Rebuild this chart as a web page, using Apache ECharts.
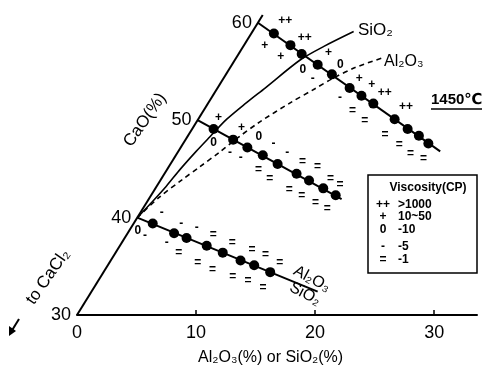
<!DOCTYPE html>
<html><head><meta charset="utf-8">
<script src="https://cdn.jsdelivr.net/npm/echarts@6/dist/echarts.min.js"></script>
<style>html,body{margin:0;padding:0;background:#fff}#c{width:489px;height:376px}</style>
</head><body><div id="c"></div>
<script>
// ---------- data (X = Al2O3 or SiO2 %, CaO %) ----------
const xTicks = [0, 10, 20, 30];
const caoTicks = [30, 40, 50, 60];
const caoAxisEnds = [[0, 30], [0, 60.8]];

const line60Ends = [[0, 60], [22, 46.8]];
const line50Ends = [[0, 50], [16.2, 41.9]];
const line40Ends = [[0, 40], [19, 32.4]];

const dots60 = [[1.9,58.9],[3.9,57.7],[5.3,56.8],[7.2,55.7],[8.9,54.7],[11.1,53.3],[12.5,52.5],[13.9,51.7],[16.5,50.1],[18.1,49.1],[19.4,48.4],[20.6,47.6]];
const dots50 = [[1.8,49.1],[4.0,48.0],[5.6,47.2],[7.3,46.4],[9.0,45.5],[11.1,44.5],[12.5,43.8],[14.1,43.0],[15.5,42.3]];
const dots40 = [[1.6,39.4],[3.9,38.4],[5.2,37.9],[7.3,37.1],[9.0,36.4],[10.9,35.6],[12.3,35.1],[14.0,34.4]];

const sio2Curve = [[0,40],[0.4,41.5],[0.8,43.2],[1.1,45.0],[1.5,46.8],[1.9,48.3],[2.4,50.1],[3.2,51.8],[4.0,53.3],[5.5,56.2],[6.8,57.6],[8.5,59.1]];
const al2o3Curve = [[0,40],[0.8,42.1],[1.8,43.9],[2.6,45.2],[3.5,46.7],[4.3,48.2],[5.3,49.8],[6.9,51.8],[8.2,53.2],[9.2,54.3],[10.5,55.4],[12.3,56.4]];

const visc60 = [
 [2.2,60.2,'++'],[4.7,58.5,'++'],[7.5,56.9,'+'],[9.1,55.7,'0'],[11.4,54.3,'+'],[12.8,53.6,'+'],[14.3,52.8,'++'],[16.8,51.4,'++'],
 [1.8,57.6,'+'],[3.7,56.5,'+'],[6.2,55.2,'0'],[7.5,54.3,'-'],[10.8,52.3,'-'],[12.5,51.0,'='],[14.1,49.9,'='],[16.5,48.5,'='],[18.2,47.5,'='],[19.6,46.6,'='],[21.0,46.0,'=']
];
const visc50 = [
 [1.6,50.3,'+'],[4.1,49.2,'+'],[6.0,48.3,'0'],[7.6,47.6,'-'],[9.2,46.7,'-'],[11.0,45.7,'='],[12.5,45.2,'='],[14.2,44.0,'='],[15.3,43.4,'='],
 [2.5,47.7,'0'],[4.4,46.7,'-'],[5.6,46.1,'-'],[7.7,44.9,'='],[9.1,44.0,'='],[11.3,42.9,'='],[12.7,42.2,'='],[14.2,41.5,'='],[15.5,40.9,'=']
];
const visc40 = [
 [0.7,38.7,'0'],[1.6,38.1,'-'],
 [1.8,40.5,'-'],[4.0,39.4,'-'],[5.5,39.0,'-'],[7.3,38.2,'='],[9.3,37.4,'='],[11.3,36.7,'='],[12.7,36.2,'='],[14.3,35.4,'='],
 [3.8,37.4,'-'],[5.3,36.4,'='],[7.4,35.4,'='],[9.0,34.7,'='],[11.1,33.9,'='],[12.6,33.5,'='],[14.2,32.8,'=']
];

const legendTitle = 'Viscosity(CP)';
const legendSyms = ['++', '+', '0', '-', '='];
const legendVals = ['>1000', '10~50', '-10', '-5', '-1'];

// ---------- ternary-to-cartesian (slant of the CaO axis) ----------
const K = 0.5065;
const P = (x, c) => [x + (c - 30) * K, c];
const PP = arr => arr.map(d => P(d[0], d[1]));

const FONT = '"Liberation Sans","DejaVu Sans",Arial,sans-serif';
const chart = echarts.init(document.getElementById('c'), null, {renderer: 'canvas'});

const lineS = (data, extra) => Object.assign({
  type: 'line', data: PP(data), symbol: 'none', silent: true,
  lineStyle: {color: '#000', width: 2}, z: 3
}, extra || {});
const dotS = data => ({
  type: 'scatter', data: PP(data), symbol: 'circle', symbolSize: 10,
  itemStyle: {color: '#000', opacity: 1}, silent: true, z: 5
});
const symS = data => ({
  type: 'scatter', symbolSize: 0, silent: true, z: 6,
  itemStyle: {opacity: 1},
  data: data.map(d => P(d[0], d[1]).concat([d[2]])),
  label: {show: true, position: 'inside', formatter: p => p.value[2],
    color: '#000', fontFamily: FONT, fontWeight: 'bold', fontSize: 12}
});

const legendRows = [205, 217, 230, 247, 260];
const graphics = [
  {type: 'text', x: 358, y: 30, style: {text: 'SiO₂', font: '17px ' + FONT, fill: '#000', verticalAlign: 'middle'}},
  {type: 'text', x: 384, y: 62, style: {text: 'Al₂O₃', font: '16px ' + FONT, fill: '#000', verticalAlign: 'middle'}},
  {type: 'text', x: 431, y: 100, style: {text: '1450℃', font: 'bold 15px ' + FONT, fill: '#000', verticalAlign: 'middle'}},
  {type: 'line', shape: {x1: 431, y1: 109, x2: 482, y2: 109}, style: {stroke: '#000', lineWidth: 1.5}},
  {type: 'text', x: 145, y: 120, rotation: 55 * Math.PI / 180, style: {text: 'CaO(%)', font: '17px ' + FONT, fill: '#000', align: 'center', verticalAlign: 'middle'}},
  {type: 'text', x: 48, y: 277, rotation: 55 * Math.PI / 180, style: {text: 'to CaCl₂', font: '17px ' + FONT, fill: '#000', align: 'center', verticalAlign: 'middle'}},
  {type: 'line', shape: {x1: 19, y1: 319, x2: 11, y2: 332}, style: {stroke: '#000', lineWidth: 2}},
  {type: 'polygon', shape: {points: [[9, 336], [9, 326], [16, 331]]}, style: {fill: '#000'}},
  {type: 'text', x: 198, y: 358, style: {text: 'Al₂O₃(%) or SiO₂(%)', font: '16px ' + FONT, fill: '#000', verticalAlign: 'middle'}},
  {type: 'text', x: 312, y: 279, rotation: -28 * Math.PI / 180, style: {text: 'Al₂O₃', font: '16px ' + FONT, fill: '#000', align: 'center', verticalAlign: 'middle'}},
  {type: 'text', x: 305, y: 294, rotation: -28 * Math.PI / 180, style: {text: 'SiO₂', font: '16px ' + FONT, fill: '#000', align: 'center', verticalAlign: 'middle'}},
  {type: 'rect', shape: {x: 368, y: 175, width: 109, height: 98}, style: {fill: '#fff', stroke: '#000', lineWidth: 1.5}},
  {type: 'text', x: 428, y: 188, style: {text: legendTitle, font: 'bold 12px ' + FONT, fill: '#000', align: 'center', verticalAlign: 'middle'}}
];
legendSyms.forEach((s, i) => {
  graphics.push({type: 'text', x: 383, y: legendRows[i], style: {text: s, font: 'bold 12px ' + FONT, fill: '#000', align: 'center', verticalAlign: 'middle'}});
  graphics.push({type: 'text', x: 398, y: legendRows[i], style: {text: legendVals[i], font: 'bold 12px ' + FONT, fill: '#000', verticalAlign: 'middle'}});
});

chart.setOption({
  animation: false,
  backgroundColor: '#fff',
  grid: {left: 77, top: 13, width: 400, height: 302},
  xAxis: {
    type: 'value', min: 0, max: 33.6, interval: 10,
    axisLine: {show: true, lineStyle: {color: '#000', width: 2}},
    axisTick: {show: true, inside: true, length: 5, customValues: xTicks.slice(1), lineStyle: {color: '#000', width: 1.5}},
    axisLabel: {show: true, customValues: xTicks, margin: 9, color: '#000', fontSize: 18, fontFamily: FONT},
    splitLine: {show: false}
  },
  yAxis: {type: 'value', min: 30, max: 61, show: false, splitLine: {show: false}},
  graphic: graphics,
  series: [
    lineS(caoAxisEnds, {lineStyle: {color: '#000', width: 2}}),
    lineS(sio2Curve, {smooth: 0.3, lineStyle: {color: '#000', width: 1.6}, z: 2}),
    lineS(al2o3Curve, {smooth: 0.3, lineStyle: {color: '#000', width: 1.6, type: [5, 4]}, z: 2}),
    lineS(line60Ends), lineS(line50Ends), lineS(line40Ends),
    dotS(dots60), dotS(dots50), dotS(dots40),
    symS(visc60), symS(visc50), symS(visc40),
    {
      type: 'scatter', symbolSize: 0, silent: true, z: 6,
      itemStyle: {opacity: 1},
      data: caoTicks.map(c => P(0, c)),
      label: {show: true, position: 'left', distance: 6, formatter: p => String(p.value[1]),
        color: '#000', fontSize: 18, fontFamily: FONT}
    }
  ]
});
</script></body></html>
